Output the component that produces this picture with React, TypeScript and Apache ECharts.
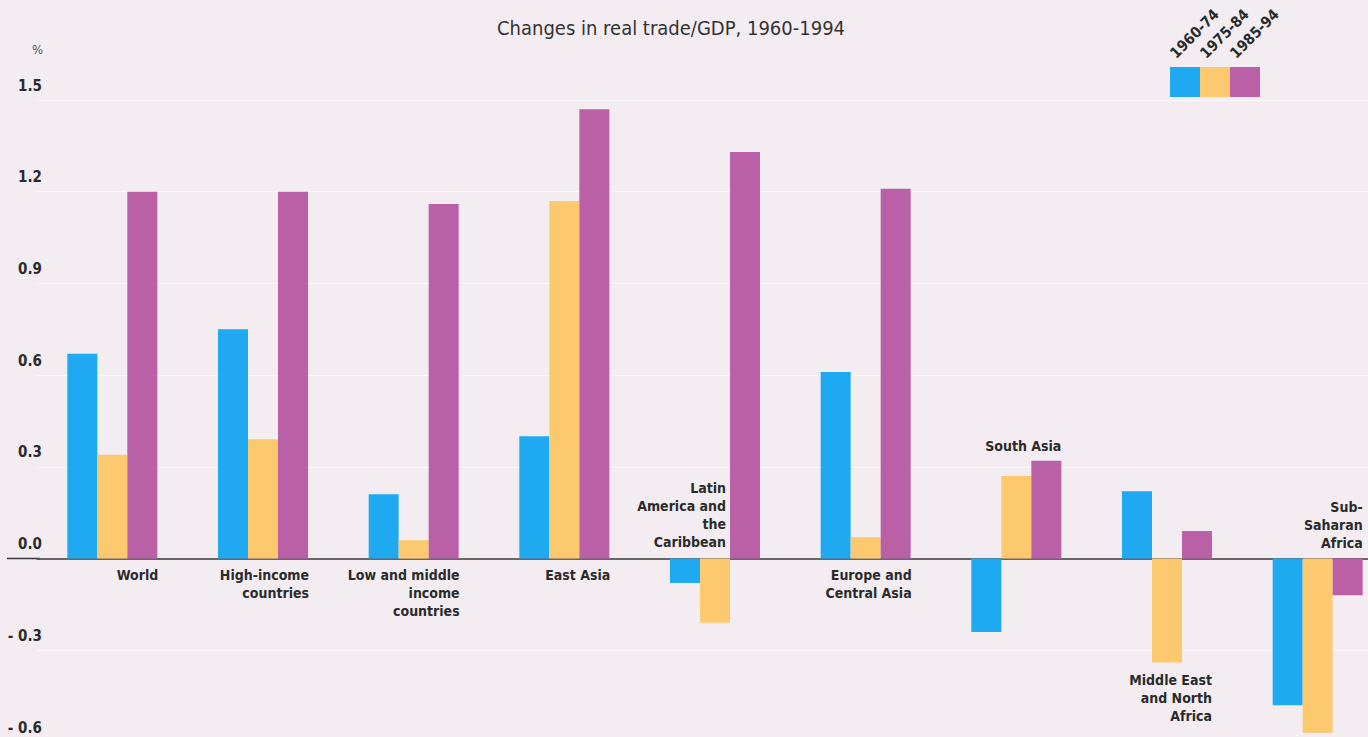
import React, { useEffect, useRef } from "react";
import * as echarts from "echarts";

const categories = [
  "World",
  "High-income\ncountries",
  "Low and middle\nincome\ncountries",
  "East Asia",
  "Latin\nAmerica and\nthe\nCaribbean",
  "Europe and\nCentral Asia",
  "South Asia",
  "Middle East\nand North\nAfrica",
  "Sub-\nSaharan\nAfrica",
];
const seriesNames = ["1960-74", "1975-84", "1985-94"];
const v1960_74 = [0.67, 0.75, 0.21, 0.4, -0.08, 0.61, -0.24, 0.22, -0.48];
const v1975_84 = [0.34, 0.39, 0.06, 1.17, -0.21, 0.07, 0.27, -0.34, -0.57];
const v1985_94 = [1.2, 1.2, 1.16, 1.47, 1.33, 1.21, 0.32, 0.09, -0.12];
const yTicks = { min: -0.6, max: 1.5, interval: 0.3 };

const COLORS = ["#1ea9f0", "#fdc96f", "#b960a7"];
const BG = "#f3edf2";
const TEXT = "#2b2b2b";
const NARROW = "'Liberation Sans Narrow', 'DejaVu Sans Condensed', 'Roboto', sans-serif";
const BAR_W = 30;

// where each category's name is drawn: which series carries it and how
type Place = { s: number; pos: [string, string]; align: string; va: string; off: [number, number] };
const below: Place = { s: 2, pos: ["100%", "100%"], align: "right", va: "top", off: [1, 7] };
const placements: Place[] = [
  below,
  below,
  below,
  below,
  { s: 2, pos: ["0%", "100%"], align: "right", va: "bottom", off: [-4, -8] },
  below,
  { s: 2, pos: ["100%", "0%"], align: "right", va: "bottom", off: [0, -6] },
  { s: 1, pos: ["100%", "100%"], align: "right", va: "top", off: [BAR_W, 8] },
  { s: 2, pos: ["100%", "0%"], align: "right", va: "bottom", off: [0, -7] },
];

export default function App() {
  const ref = useRef<HTMLDivElement>(null);
  useEffect(() => {
    document.body.style.margin = "0";
    document.body.style.overflow = "hidden";
    const chart = echarts.init(ref.current!, undefined, { renderer: "svg" });
    const values = [v1960_74, v1975_84, v1985_94];
    const series = values.map((vals, si) => ({
      name: seriesNames[si],
      type: "bar",
      barWidth: BAR_W,
      barGap: "0%",
      itemStyle: { color: COLORS[si] },
      data: vals.map((v, ci) => {
        const p = placements[ci];
        if (p.s !== si) return v;
        return {
          value: v,
          label: {
            show: true,
            formatter: categories[ci],
            position: p.pos,
            align: p.align,
            verticalAlign: p.va,
            offset: p.off,
            color: TEXT,
            fontFamily: NARROW,
            fontWeight: "bold",
            fontSize: 14,
            lineHeight: 18,
          },
        };
      }),
    }));

    const baseGraphics: any[] = [];
    seriesNames.forEach((n, i) => {
      baseGraphics.push({
        type: "rect",
        left: 1170 + i * 30,
        top: 67,
        shape: { width: 30, height: 30 },
        style: { fill: COLORS[i] },
      });
      baseGraphics.push({
        type: "text",
        x: 1178 + i * 30,
        y: 61,
        rotation: Math.PI / 4,
        style: {
          text: n,
          align: "left",
          verticalAlign: "bottom",
          fill: TEXT,
          font: `bold 15px ${NARROW}`,
        },
      });
    });
    baseGraphics.push({
      type: "text",
      left: 32,
      top: 43,
      style: { text: "%", fill: "#555", font: `13px ${NARROW}` },
    });

    chart.setOption({
      animation: false,
      backgroundColor: BG,
      title: {
        text: "Changes in real trade/GDP, 1960-1994",
        left: 666,
        textAlign: "center",
        top: 13,
        textStyle: { fontFamily: NARROW, fontWeight: "normal", fontSize: 20, color: "#333" },
      },
      grid: { left: 37, right: 0, top: 100, bottom: 0, containLabel: false },
      xAxis: {
        type: "category",
        data: categories,
        axisTick: { show: false },
        axisLabel: { show: false },
        axisLine: { onZero: true, lineStyle: { color: "#3a3a3a", width: 1.5 } },
        splitLine: { show: false },
      },
      yAxis: {
        type: "value",
        min: yTicks.min,
        max: yTicks.max,
        interval: yTicks.interval,
        axisLine: { show: false },
        axisTick: { show: false },
        splitLine: { show: true, lineStyle: { color: "rgba(255,255,255,0.55)", width: 1 } },
        axisLabel: {
          margin: -5,
          align: "right",
          verticalAlign: "bottom",
          padding: [0, 0, 7, 0],
          color: TEXT,
          fontFamily: NARROW,
          fontWeight: "bold",
          fontSize: 15,
          formatter: (v: number) => (v < 0 ? "- " + Math.abs(v).toFixed(1) : v.toFixed(1)),
        },
      },
      series,
      graphic: baseGraphics,
    });

    const y0 = chart.convertToPixel({ yAxisIndex: 0 }, 0) as number;
    chart.setOption({
      graphic: [
        ...baseGraphics,
        {
          type: "line",
          shape: { x1: 7, y1: y0, x2: 40, y2: y0 },
          style: { stroke: "#3a3a3a", lineWidth: 1.5 },
        },
      ],
    });
    return () => chart.dispose();
  }, []);
  return (
    <div
      ref={ref}
      style={{ position: "fixed", left: 0, top: 0, width: 1393, height: 742 }}
    />
  );
}
